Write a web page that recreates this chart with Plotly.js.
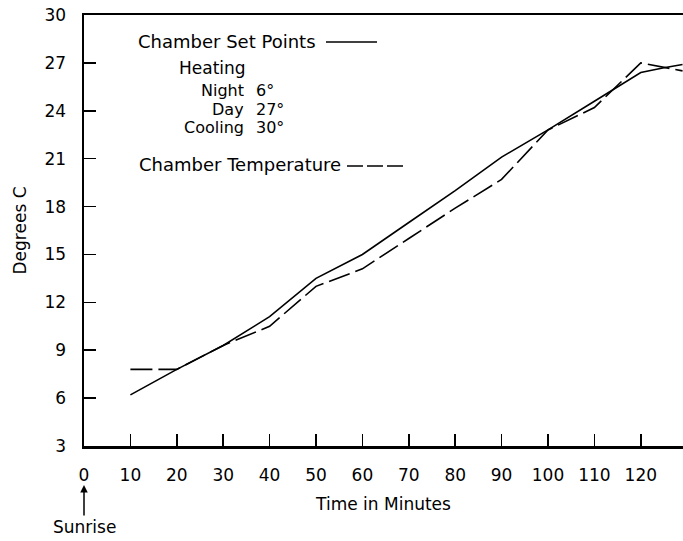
<!DOCTYPE html>
<html>
<head>
<meta charset="utf-8">
<script src="https://cdn.plot.ly/plotly-3.0.1.min.js"></script>
<style>html,body{margin:0;padding:0;background:#fff}#chart{width:683px;height:541px}</style>
</head>
<body>
<div id="chart"></div>
<script>
// Time (minutes after sunrise) and chamber set points (solid line)
const setTime = [10, 20, 30, 40, 50, 60, 70, 80, 90, 100, 110, 120, 125, 129];
const setPoints = [6.2, 7.8, 9.3, 11.1, 13.5, 15.0, 17.0, 19.0, 21.1, 22.8, 24.6, 26.4, 26.7, 26.9];

// Measured chamber temperature (dashed line)
const tempTime = [10, 20, 30, 40, 50, 60, 70, 80, 90, 100, 110, 120, 129];
const chamberTemp = [7.8, 7.8, 9.3, 10.5, 13.0, 14.1, 16.0, 17.9, 19.7, 22.8, 24.2, 27.0, 26.5];

// Axis ticks
const xTicks = [0, 10, 20, 30, 40, 50, 60, 70, 80, 90, 100, 110, 120];
const yTicks = [3, 6, 9, 12, 15, 18, 21, 24, 27, 30];

// Legend / label texts
const legendSet = "Chamber Set Points";
const heatingLabel = "Heating";
const spLabels = ["Night", "Day", "Cooling"];
const spValues = ["6°", "27°", "30°"];
const legendTemp = "Chamber Temperature";

const FONT = "DejaVu Sans, Verdana, sans-serif";
const fs = 17;

const traces = [
  {x: setTime, y: setPoints, mode: "lines", name: legendSet,
   line: {color: "#000", width: 1.6}},
  {x: tempTime, y: chamberTemp, mode: "lines", name: legendTemp,
   line: {color: "#000", width: 1.6, dash: "22px,6px"}}
];

// helpers to convert approximate pixel positions into paper fractions
const L = 84, T = 15, W = 599, H = 431;
const px = v => (v - L) / W;
const py = v => (T + H - v) / H;

const annotations = [
  {xref: "paper", yref: "paper", x: px(136), y: py(42), xanchor: "left", yanchor: "middle",
   text: legendSet, showarrow: false, font: {family: FONT, size: 18, color: "#000"}},
  {xref: "paper", yref: "paper", x: px(177), y: py(68), xanchor: "left", yanchor: "middle",
   text: heatingLabel, showarrow: false, font: {family: FONT, size: fs, color: "#000"}},
  {xref: "paper", yref: "paper", x: px(137), y: py(165), xanchor: "left", yanchor: "middle",
   text: legendTemp, showarrow: false, font: {family: FONT, size: 18, color: "#000"}},
  {xref: "x", yref: "paper", x: 0, y: py(485), text: "Sunrise", showarrow: true,
   arrowhead: 2, arrowsize: 1, arrowwidth: 1.5, arrowcolor: "#000", ax: 0, ay: 42,
   font: {family: FONT, size: fs, color: "#000"}}
];
const rowsY = [90, 108.5, 127];
spLabels.forEach((t, i) => {
  annotations.push({xref: "paper", yref: "paper", x: px(245), y: py(rowsY[i]), xanchor: "right", yanchor: "middle",
    height: 18, valign: "middle", borderpad: 0,
    text: t, showarrow: false, font: {family: FONT, size: 16, color: "#000"}});
  annotations.push({xref: "paper", yref: "paper", x: px(255), y: py(rowsY[i]), xanchor: "left", yanchor: "middle",
    height: 18, valign: "middle", borderpad: 0,
    text: spValues[i], showarrow: false, font: {family: FONT, size: 16, color: "#000"}});
});

const shapes = [
  {type: "line", xref: "paper", yref: "paper", x0: px(326), x1: px(377), y0: py(42), y1: py(42),
   line: {color: "#000", width: 1.6}},
  {type: "line", xref: "paper", yref: "paper", x0: px(347), x1: px(404), y0: py(166), y1: py(166),
   line: {color: "#000", width: 1.6, dash: "16px,4px"}}
];

const layout = {
  width: 683, height: 541,
  margin: {l: L, r: 0, t: T, b: 541 - T - H, pad: 0},
  paper_bgcolor: "#fff", plot_bgcolor: "#fff",
  showlegend: false,
  font: {family: FONT, size: fs, color: "#000"},
  xaxis: {
    range: [0, 129.1], tickvals: xTicks, ticktext: xTicks.map(String),
    ticks: "inside", ticklen: 12, tickwidth: 1.5, tickcolor: "#000",
    showline: true, linewidth: 2.5, linecolor: "#000", mirror: true,
    showgrid: false, zeroline: false, ticklabelstandoff: 12,
    tickfont: {family: FONT, size: fs, color: "#000"},
    title: {text: "Time in Minutes", font: {family: FONT, size: fs, color: "#000"}, standoff: 14}
  },
  yaxis: {
    range: [3, 30], tickvals: yTicks, ticktext: yTicks.map(String),
    ticks: "inside", ticklen: 12, tickwidth: 1.5, tickcolor: "#000",
    showline: true, linewidth: 2.5, linecolor: "#000",
    showgrid: false, zeroline: false, ticklabelstandoff: 12,
    tickfont: {family: FONT, size: fs, color: "#000"},
    title: {text: "Degrees C", font: {family: FONT, size: fs, color: "#000"}, standoff: 14}
  },
  annotations: annotations,
  shapes: shapes
};

Plotly.newPlot("chart", traces, layout, {staticPlot: true, displayModeBar: false});
</script>
</body>
</html>
